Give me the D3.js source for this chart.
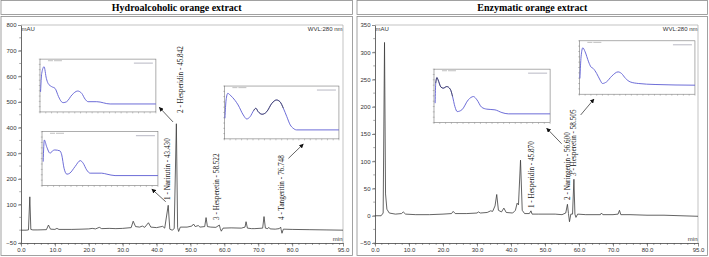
<!DOCTYPE html>
<html>
<head>
<meta charset="utf-8">
<script src="https://cdn.jsdelivr.net/npm/d3@7"></script>
<style>
  body { margin: 0; background: #fff; }
  svg { display: block; }
</style>
</head>
<body>
<div id="chart"></div>
<script>
// chromatogram traces, [time (min), signal (mAU)]
var hydroTrace = [[0,0],[1.5,0],[2.2,1],[2.6,130],[2.9,3],[3.5,1],[5,1],[7.5,2],[8.1,20],[8.7,4],[10,3],[10.6,7],[11.2,3],[15,3],[18,4],[20,5],[21,7],[22,5],[23.1,11],[23.8,6],[26,7],[28,6],[30,7],[32.5,10],[33.1,35],[33.8,14],[35,12],[35.8,16],[36.5,11],[37.6,29],[38.3,12],[40,10],[41.8,15],[42.4,8],[43.43,97],[43.9,4],[44.6,0],[45.2,6],[45.84,415],[46.2,10],[46.5,-5],[47,12],[49,12],[50.4,16],[50.9,24],[51.4,14],[52.3,18],[52.8,12],[54.2,14],[54.6,49],[55,14],[56,12],[57.5,11],[58.52,20],[58.8,6],[59.1,-4],[59.6,8],[62,9],[65,8],[66.1,12],[66.4,33],[66.8,8],[68,6],[69,6],[71.3,8],[71.7,53],[72.1,8],[72.8,6],[73.1,11],[73.5,5],[75,4],[76.2,6],[76.6,12],[76.75,2],[77,-12],[77.4,4],[80,3],[85,2],[90,1],[95,0]];
var enzTrace = [[0,0],[1.8,0],[2.4,5],[2.8,318],[3.1,40],[3.5,12],[4.2,5],[6,3],[7.8,4],[8.3,7],[9,3],[12,2],[16,2],[20,3],[22.5,4],[23,8],[23.6,4],[27,4],[30,5],[30.4,7],[31,5],[33,6],[34,9],[34.6,8],[35.3,18],[35.8,39],[36.3,10],[37.2,7],[37.9,14],[38.6,6],[40.5,5],[41.3,10],[41.8,23],[42.2,20],[42.8,102],[43.3,10],[44,4],[45.4,4],[45.87,9],[46.2,3],[48,3],[50,3],[53,3],[55,2],[56.1,5],[56.6,21],[56.9,4],[57.2,-11],[57.6,3],[58.1,3],[58.505,67],[58.8,3],[59.1,-3],[59.6,3],[62,2],[66.3,2],[66.6,5],[67,2],[70,2],[71.5,3],[71.9,10],[72.3,2],[75,2],[80,1],[85,1],[90,0],[95,-1]];

// identified peaks
var hydroPeakNames = ["1 - Narirutin - 43.430", "2 - Hesperidin - 45.842", "3 - Hesperetin - 58.522", "4 - Tangeritin - 76.748"];
var hydroPeakTimes = [43.430, 45.842, 58.522, 76.748];
var enzPeakNames = ["1 - Hesperidin - 45.870", "2 - Naringenin - 56.600", "3 - Hesperetin - 58.505"];
var enzPeakTimes = [45.870, 56.600, 58.505];

// UV spectra of the insets, [wavelength (nm), relative absorbance (%)]
var specHydroHesperidin = [[201,38],[203,73],[207,85.5],[211,63.5],[214,54],[220,48],[226,44.6],[232,29],[237,19.4],[240,17.6],[246,19.4],[255,32],[265,39.6],[272,35.2],[278,24],[283,19.4],[298,19.4],[321,15.1],[400,15.1]];
var specHydroNarirutin = [[202,44.4],[204,84.6],[208,72.2],[214,60],[218,64.3],[222,66.1],[231,64.3],[234,56.9],[238,32.2],[243,21.1],[248,23],[257,35.2],[266,46.3],[271,41.5],[277,29.1],[283,23],[303,23],[312,21.1],[326,18.5],[400,18.5]];
var specHydroTangeritin = [[201,39],[203,73.6],[206,86.2],[210,83],[219,72.3],[224,64.2],[233,45.3],[239,37.7],[245,42.1],[251,53.4],[255,57.9],[259,51.5],[266,46.6],[274,51.5],[283,67.4],[291,73.6],[297,70.4],[303,57.9],[309,42.1],[315,26.4],[320,20.2],[326,17],[400,17]];
var specEnzHesperidin = [[202,36.3],[203,73.8],[205,84.3],[207,80],[212,66.3],[216,64.4],[222,67.4],[228,62.5],[232,48.7],[236,30],[240,20.6],[248,23.8],[259,42.5],[268,48.7],[274,42.5],[282,28.8],[291,25.1],[305,23.8],[317,18.7],[328,16.3],[400,16.3]];
var specEnzHesperetin = [[201,29.5],[203,70],[206,86.9],[210,79.4],[216,60.6],[220,51.2],[224,48.2],[230,38.8],[236,26.3],[240,20.1],[247,23.1],[256,33.8],[267,41.8],[273,38.8],[280,29.5],[288,23.1],[302,20.1],[331,18.2],[400,16.9]];

// axis ticks
var timeTicks = [0, 10, 20, 30, 40, 50, 60, 70, 80, 95];
var hydroYTicks = [-50, 100, 200, 300, 400, 500, 600, 700, 800];
var enzYTicks = [-50, 0, 50, 100, 150, 200, 250, 300, 350];

var W = 709, H = 257;
var svg = d3.select("#chart").append("svg").attr("width", W).attr("height", H);

svg.append("defs").append("marker")
  .attr("id", "arrow")
  .attr("viewBox", "0 0 10 10")
  .attr("refX", 9).attr("refY", 5)
  .attr("markerUnits", "userSpaceOnUse")
  .attr("markerWidth", 4.5).attr("markerHeight", 4.5)
  .attr("orient", "auto")
  .append("path").attr("d", "M0,0L10,5L0,10z").attr("fill", "#111");

var sans = "'Liberation Sans', Arial, sans-serif";
var serif = "'Liberation Serif', 'Times New Roman', serif";

function drawPanel(p) {
  var g = svg.append("g");

  // title bar and frame
  g.append("rect")
    .attr("x", p.frame[0]).attr("y", 0.5)
    .attr("width", p.frame[1] - p.frame[0]).attr("height", 14)
    .attr("fill", "none").attr("stroke", "#8a8a8a").attr("stroke-width", 0.8);
  g.append("rect")
    .attr("x", p.frame[0]).attr("y", 16.5)
    .attr("width", p.frame[1] - p.frame[0]).attr("height", 239)
    .attr("fill", "none").attr("stroke", "#8a8a8a").attr("stroke-width", 0.8);
  g.append("text")
    .attr("x", (p.frame[0] + p.frame[1]) / 2).attr("y", 10.8)
    .attr("text-anchor", "middle")
    .style("font-family", serif).style("font-weight", "bold").style("font-size", "10px")
    .text(p.title);

  var x = d3.scaleLinear().domain([0, 95]).range([p.left, p.right]);
  var y = d3.scaleLinear().domain(p.yDomain).range([243, 25]);

  // plot frame
  g.append("path")
    .attr("d", "M" + x(0) + "," + y(p.yDomain[1]) + "H" + x(95) + "V" + y(p.yDomain[0]))
    .attr("fill", "none").attr("stroke", "#aaa").attr("stroke-width", 0.7);

  // minor ticks
  var minorX = d3.range(0, 95, 2);
  g.selectAll(".mx").data(minorX).join("line")
    .attr("x1", d => x(d)).attr("x2", d => x(d))
    .attr("y1", 243).attr("y2", 245)
    .attr("stroke", "#555").attr("stroke-width", 0.5);
  g.selectAll(".my").data(d3.range(p.yDomain[0], p.yDomain[1], p.minorY)).join("line")
    .attr("x1", x(0) - 1.8).attr("x2", x(0))
    .attr("y1", d => y(d)).attr("y2", d => y(d))
    .attr("stroke", "#555").attr("stroke-width", 0.5);

  // axes
  var xAxis = g.append("g")
    .attr("transform", "translate(0," + y(p.yDomain[0]) + ")")
    .call(d3.axisBottom(x).tickValues(timeTicks).tickFormat(d3.format(".1f"))
      .tickSize(3.5).tickSizeOuter(0).tickPadding(1.2));
  var yAxis = g.append("g")
    .attr("transform", "translate(" + x(0) + ",0)")
    .call(d3.axisLeft(y).tickValues(p.yTicks).tickSize(3).tickSizeOuter(0).tickPadding(1.5));
  [xAxis, yAxis].forEach(function(a) {
    a.select(".domain").attr("stroke", "#444").attr("stroke-width", 0.8);
    a.selectAll(".tick line").attr("stroke", "#444").attr("stroke-width", 0.6);
    a.selectAll("text").style("font-family", sans).style("font-size", "6px").attr("fill", "#333");
  });

  // corner labels
  g.append("text").attr("x", x(0) + 0.5).attr("y", 31)
    .style("font-family", sans).style("font-size", "6px").attr("fill", "#333").text("mAU");
  g.append("text").attr("x", x(95) - 0.5).attr("y", 31).attr("text-anchor", "end")
    .style("font-family", sans).style("font-size", "6px").attr("fill", "#333").text("WVL:280 nm");
  g.append("text").attr("x", x(95) - 0.5).attr("y", 241).attr("text-anchor", "end")
    .style("font-family", sans).style("font-size", "6px").attr("fill", "#333").text("min");

  // chromatogram
  var line = d3.line().x(d => x(d[0])).y(d => y(d[1]));
  g.append("path").datum(p.trace)
    .attr("d", line)
    .attr("fill", "none").attr("stroke", "#3c3c3c").attr("stroke-width", 0.8)
    .attr("stroke-linejoin", "round");

  // peak labels
  g.selectAll(".plab").data(p.peakNames).join("text")
    .attr("transform", (d, i) => "translate(" + (x(p.peakTimes[i]) + p.labelLayout[i][0]) + "," + y(p.labelLayout[i][1]) + ") rotate(-90)")
    .attr("dy", "0.35em")
    .style("font-family", serif).style("font-size", "7.2px").attr("fill", "#111")
    .text(d => d);

  // spectrum insets
  p.insets.forEach(function(ins) {
    var x0 = x(ins.t[0]), x1 = x(ins.t[1]), y0 = y(ins.v[0]), y1 = y(ins.v[1]);
    var ig = g.append("g");
    ig.append("rect").attr("x", x0).attr("y", y0).attr("width", x1 - x0).attr("height", y1 - y0)
      .attr("fill", "#fff").attr("stroke", "#777").attr("stroke-width", 0.6);
    var sx = d3.scaleLinear().domain([200, 400]).range([x0, x1]);
    var sy = d3.scaleLinear().domain([0, 100]).range([y1, y0]);
    ig.selectAll(".bt").data(sx.ticks(20)).join("line")
      .attr("x1", d => sx(d)).attr("x2", d => sx(d)).attr("y1", y1).attr("y2", y1 + 1.5)
      .attr("stroke", "#777").attr("stroke-width", 0.4);
    ig.selectAll(".lt").data(sy.ticks(10)).join("line")
      .attr("x1", x0 - 1.2).attr("x2", x0 + 0.6).attr("y1", d => sy(d)).attr("y2", d => sy(d))
      .attr("stroke", "#777").attr("stroke-width", 0.4);
    // header marks of the spectrum window
    ig.append("line").attr("x1", x0 + 8).attr("x2", x0 + 24).attr("y1", y0 + 1.6).attr("y2", y0 + 1.6)
      .attr("stroke", "#999").attr("stroke-width", 0.6).attr("stroke-dasharray", "5,1,8");
    ig.append("line").attr("x1", x1 - 22).attr("x2", x1 - 3).attr("y1", y0 + 4).attr("y2", y0 + 4)
      .attr("stroke", "#99a").attr("stroke-width", 0.7);
    var sl = d3.line().x(d => sx(d[0])).y(d => sy(d[1])).curve(d3.curveMonotoneX);
    ig.append("path").datum(ins.spec).attr("d", sl)
      .attr("fill", "none").attr("stroke", "#5c5cd2").attr("stroke-width", 0.9);
    if (ins.ref) {
      ig.append("path").datum(ins.spec.filter(d => d[0] >= ins.ref[0] && d[0] <= ins.ref[1])).attr("d", sl)
        .attr("fill", "none").attr("stroke", "#222").attr("stroke-width", 0.7).attr("opacity", 0.8);
    }
  });

  // arrows from peaks to spectra
  g.selectAll(".arr").data(p.arrows).join("line")
    .attr("x1", d => x(d[0])).attr("y1", d => y(d[1]))
    .attr("x2", d => x(d[2])).attr("y2", d => y(d[3]))
    .attr("stroke", "#222").attr("stroke-width", 0.7)
    .attr("marker-end", "url(#arrow)");
}

drawPanel({
  title: "Hydroalcoholic orange extract",
  frame: [1, 352.5],
  left: 21, right: 343,
  yDomain: [-50, 800], yTicks: hydroYTicks, minorY: 50,
  trace: hydroTrace,
  peakNames: hydroPeakNames, peakTimes: hydroPeakTimes,
  labelLayout: [[-0.9, 118], [3.6, 457], [-2.6, 40], [0, 40]],
  insets: [
    {spec: specHydroHesperidin, t: [5.6, 39.8], v: [667, 461]},
    {spec: specHydroNarirutin, t: [6.2, 40.4], v: [384, 174]},
    {spec: specHydroTangeritin, t: [60, 93.8], v: [562, 356], ref: [250, 304]}
  ],
  arrows: [[44.85, 422, 40.8, 479], [42.7, 111, 38.6, 160], [78.9, 280, 83.3, 336]]
});

drawPanel({
  title: "Enzymatic orange extract",
  frame: [357, 707.5],
  left: 375, right: 698,
  yDomain: [-50, 350], yTicks: enzYTicks, minorY: 25,
  trace: enzTrace,
  peakNames: enzPeakNames, peakTimes: enzPeakTimes,
  labelLayout: [[0.7, 14], [0.3, 29], [-0.4, 73]],
  insets: [
    {spec: specEnzHesperidin, t: [17.35, 51.5], v: [269, 171], ref: [203, 232]},
    {spec: specEnzHesperetin, t: [60.1, 94.1], v: [321, 223]}
  ],
  arrows: [[54.9, 132, 50.5, 160.5], [60.5, 185, 64.4, 214]]
});
</script>
</body>
</html>
